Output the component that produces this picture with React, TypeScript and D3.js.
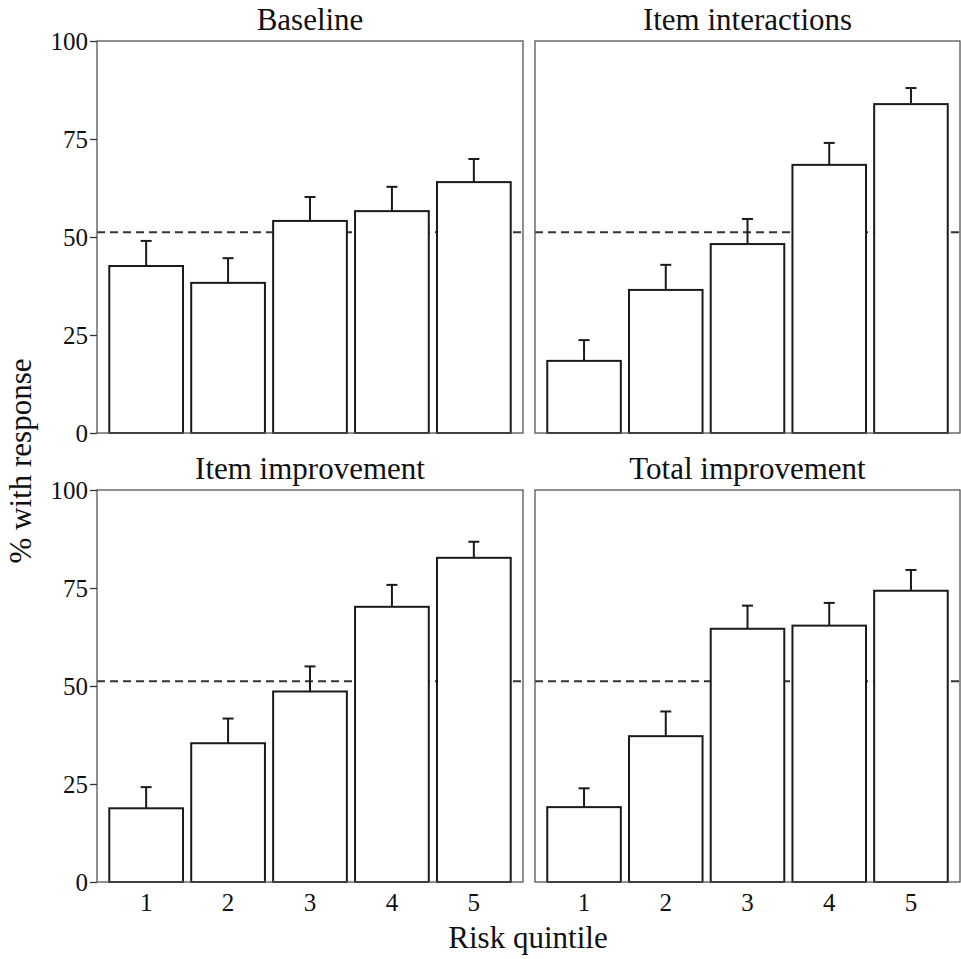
import React, { useEffect, useRef } from "react";
import * as d3 from "d3";

// risk quintiles on the x axis
const quintiles = ["1", "2", "3", "4", "5"];
const panelTitles = ["Baseline", "Item interactions", "Item improvement", "Total improvement"];

// % with response (bar height) and upper error bar end, per panel
const baseline = [42.6, 38.3, 54.1, 56.6, 64.0];
const baselineUpper = [49.0, 44.6, 60.2, 62.8, 69.9];
const interactions = [18.4, 36.5, 48.2, 68.4, 83.9];
const interactionsUpper = [23.7, 42.9, 54.6, 74.0, 88.0];
const itemImprovement = [18.8, 35.4, 48.6, 70.2, 82.7];
const itemImprovementUpper = [24.2, 41.7, 55.0, 75.8, 86.8];
const totalImprovement = [19.1, 37.2, 64.6, 65.4, 74.3];
const totalImprovementUpper = [23.9, 43.5, 70.5, 71.2, 79.6];

const referenceLine = 51.2;
const yTicks = [0, 25, 50, 75, 100];

const App = () => {
  const ref = useRef<SVGSVGElement>(null);

  useEffect(() => {
    const width = 961;
    const height = 959;
    const font = "'Liberation Serif', 'DejaVu Serif', serif";

    const svg = d3.select(ref.current);
    svg.selectAll("*").remove();
    svg.attr("width", width).attr("height", height);

    const panels = [
      { title: panelTitles[0], values: baseline, upper: baselineUpper, x0: 97, x1: 523, y0: 41, y1: 433, left: true, bottom: false },
      { title: panelTitles[1], values: interactions, upper: interactionsUpper, x0: 535, x1: 960, y0: 41, y1: 433, left: false, bottom: false },
      { title: panelTitles[2], values: itemImprovement, upper: itemImprovementUpper, x0: 97, x1: 523, y0: 490, y1: 882, left: true, bottom: true },
      { title: panelTitles[3], values: totalImprovement, upper: totalImprovementUpper, x0: 535, x1: 960, y0: 490, y1: 882, left: false, bottom: true },
    ];

    panels.forEach((p) => {
      const g = svg.append("g");

      // ggplot-style discrete axis: 0.6 unit expansion, bars 0.9 wide
      const x = d3
        .scaleBand()
        .domain(quintiles)
        .range([p.x0, p.x1])
        .paddingInner(0.1)
        .paddingOuter(0.15);
      const y = d3.scaleLinear().domain([0, 100]).range([p.y1, p.y0]);

      // panel title
      g.append("text")
        .attr("x", (p.x0 + p.x1) / 2)
        .attr("y", p.y0 - 11)
        .attr("text-anchor", "middle")
        .style("font-family", font)
        .style("font-size", "31px")
        .attr("fill", "#111")
        .text(p.title);

      // dashed reference line
      g.append("line")
        .attr("x1", p.x0)
        .attr("x2", p.x1)
        .attr("y1", y(referenceLine))
        .attr("y2", y(referenceLine))
        .attr("stroke", "#333")
        .attr("stroke-width", 2)
        .attr("stroke-dasharray", "8,5");

      // error bars (lower half hidden by the bars)
      const capHalf = 5.5;
      quintiles.forEach((q, i) => {
        const cx = (x(q) as number) + x.bandwidth() / 2;
        g.append("line")
          .attr("x1", cx)
          .attr("x2", cx)
          .attr("y1", y(p.values[i]))
          .attr("y2", y(p.upper[i]))
          .attr("stroke", "#1a1a1a")
          .attr("stroke-width", 2);
        g.append("line")
          .attr("x1", cx - capHalf)
          .attr("x2", cx + capHalf)
          .attr("y1", y(p.upper[i]))
          .attr("y2", y(p.upper[i]))
          .attr("stroke", "#1a1a1a")
          .attr("stroke-width", 2);
      });

      // bars
      g.selectAll("rect.bar")
        .data(p.values)
        .enter()
        .append("rect")
        .attr("class", "bar")
        .attr("x", (d, i) => x(quintiles[i]) as number)
        .attr("width", x.bandwidth())
        .attr("y", (d) => y(d))
        .attr("height", (d) => y(0) - y(d))
        .attr("fill", "white")
        .attr("stroke", "#1a1a1a")
        .attr("stroke-width", 2);

      // panel border
      g.append("rect")
        .attr("x", p.x0)
        .attr("y", p.y0)
        .attr("width", p.x1 - p.x0)
        .attr("height", p.y1 - p.y0)
        .attr("fill", "none")
        .attr("stroke", "#555")
        .attr("stroke-width", 1.3);

      if (p.left) {
        const yAxis = g
          .append("g")
          .attr("transform", `translate(${p.x0},0)`)
          .call(d3.axisLeft(y).tickValues(yTicks).tickSize(7).tickPadding(2));
        yAxis.select(".domain").remove();
        yAxis.selectAll("line").attr("stroke", "#333").attr("stroke-width", 1.3);
        yAxis
          .selectAll("text")
          .style("font-family", font)
          .style("font-size", "25px")
          .attr("fill", "#111");
      }

      if (p.bottom) {
        const xAxis = g
          .append("g")
          .attr("transform", `translate(0,${p.y1})`)
          .call(d3.axisBottom(x).tickSize(0).tickPadding(11));
        xAxis.select(".domain").remove();
        xAxis
          .selectAll("text")
          .style("font-family", font)
          .style("font-size", "25px")
          .attr("fill", "#111");
      }
    });

    // axis titles
    svg
      .append("text")
      .attr("x", 528)
      .attr("y", 948)
      .attr("text-anchor", "middle")
      .style("font-family", font)
      .style("font-size", "31px")
      .attr("fill", "#111")
      .text("Risk quintile");

    svg
      .append("text")
      .attr("transform", `translate(31,461) rotate(-90)`)
      .attr("text-anchor", "middle")
      .style("font-family", font)
      .style("font-size", "31px")
      .attr("fill", "#111")
      .text("% with response");
  }, []);

  return (
    <div style={{ position: "absolute", left: 0, top: 0 }}>
      <svg ref={ref} style={{ display: "block", background: "white" }} />
    </div>
  );
};

export default App;
